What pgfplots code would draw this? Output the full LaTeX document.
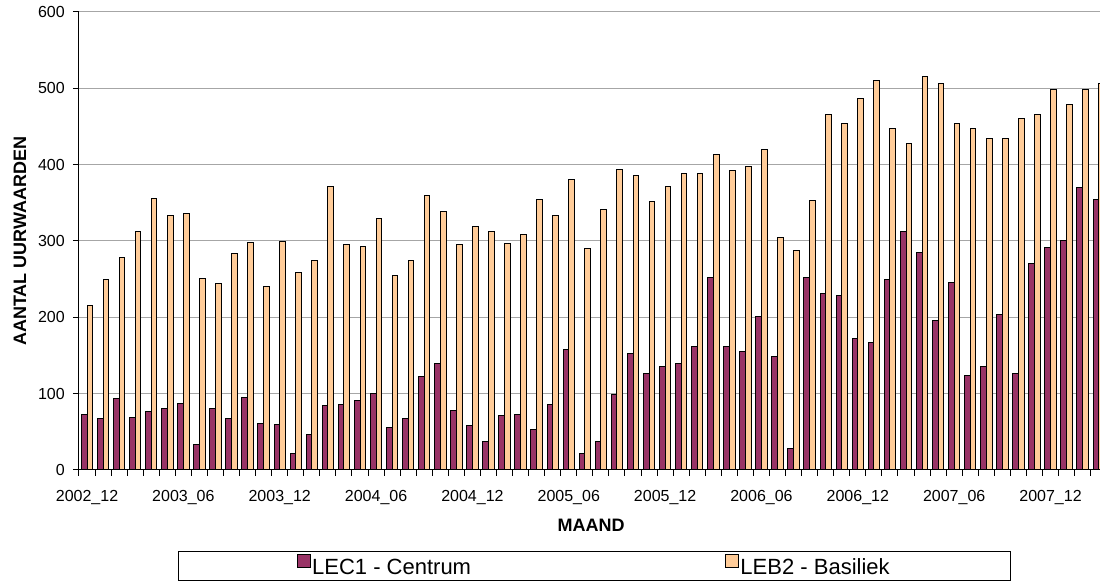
\documentclass[border=0pt]{standalone}
\usepackage{fontspec}
\setmainfont{Liberation Sans}
\usepackage{pgfplots}
\usepackage{pgfplotstable}
\pgfplotsset{compat=1.18}

\definecolor{lecpurple}{HTML}{993366}
\definecolor{leborange}{HTML}{FFCC99}
\definecolor{gridgray}{HTML}{A6A6A6}

% monthly counts, 2002_12 .. 2008_03 (idx 0 = 2002_12)
\pgfplotstableread{
idx lec leb
0  73 215
1  67 249
2  94 278
3  69 312
4  76 356
5  81 333
6  87 336
7  33 251
8  80 244
9  68 284
10 95 298
11 61 240
12 60 299
13 21 259
14 46 275
15 84 372
16 86 295
17 91 293
18 100 329
19 56 255
20 67 275
21 122 359
22 140 338
23 78 295
24 58 319
25 37 313
26 72 297
27 73 309
28 53 355
29 86 334
30 158 381
31 21 290
32 37 341
33 99 394
34 152 386
35 127 352
36 135 372
37 139 388
38 162 389
39 252 413
40 162 393
41 155 397
42 201 420
43 149 305
44 28 288
45 252 353
46 231 466
47 229 454
48 172 487
49 167 510
50 250 448
51 313 428
52 285 515
53 196 506
54 246 454
55 124 448
56 136 434
57 204 434
58 126 460
59 270 466
60 292 498
61 300 479
62 370 499
63 355 506
}\uurdata

\begin{document}
\begin{tikzpicture}
\useasboundingbox (-59.25pt,-83.25pt) rectangle (765.75pt,352.5pt);
\begin{axis}[
    at={(0pt,0pt)}, anchor=south west,
    scale only axis,
    width=765.75pt, height=343.5pt,
    xmin=-0.5, xmax=63.08,
    ymin=0, ymax=600,
    axis x line*=bottom, axis y line*=left,
    axis line style={-, black, line width=0.75pt},
    xtick={-0.5,0.5,...,62.5},
    xticklabels={},
    extra x ticks={0,6,...,60},
    extra x tick labels={2002\_12,2003\_06,2003\_12,2004\_06,2004\_12,2005\_06,2005\_12,2006\_06,2006\_12,2007\_06,2007\_12},
    extra x tick style={grid=none, major tick length=0pt},
    xticklabel style={anchor=base, yshift=-23.5pt},
    ytick={0,100,...,600},
    yticklabel style={anchor=east, inner sep=0pt, xshift=-6pt},
    tick align=outside,
    major tick length=4.5pt,
    tick style={black, line width=0.75pt},
    ticklabel style={font=\fontsize{12}{14}\selectfont},
    /pgf/number format/assume math mode=true,
    ymajorgrids,
    grid style={gridgray, line width=0.75pt},
    xlabel={MAAND},
    xlabel style={at={(axis description cs:0.5015,-0.120)}, anchor=center, font=\bfseries\fontsize{13.5}{15}\selectfont},
    ylabel={AANTAL UURWAARDEN},
    ylabel style={at={(axis description cs:-0.0578,0.5)}, anchor=center, font=\bfseries\fontsize{13.5}{15}\selectfont},
    legend columns=2,
    legend style={at={(axis description cs:0.0965,-0.1765)}, anchor=north west,
        draw=black, line width=0.75pt, inner xsep=89.25pt, inner ysep=1.8pt,
        font=\fontsize{16.5}{18}\selectfont,
        nodes={inner xsep=1.2pt, inner ysep=0pt, text height=12pt, text depth=3pt},
        /tikz/column 2/.style={column sep=189.5pt}},
    legend image code/.code={\draw[#1, bar shift=0pt] (0pt,0.3pt) rectangle (9.4pt,10.6pt);},
]
\addplot[ybar, bar width=0.356, bar shift=-0.178, fill=lecpurple, draw=black, line width=0.75pt]
    table[x=idx, y=lec] {\uurdata};
\addlegendentry{LEC1 - Centrum}
\addplot[ybar, bar width=0.356, bar shift=0.178, fill=leborange, draw=black, line width=0.75pt]
    table[x=idx, y=leb] {\uurdata};
\addlegendentry{LEB2 - Basiliek}
\end{axis}
\end{tikzpicture}
\end{document}
